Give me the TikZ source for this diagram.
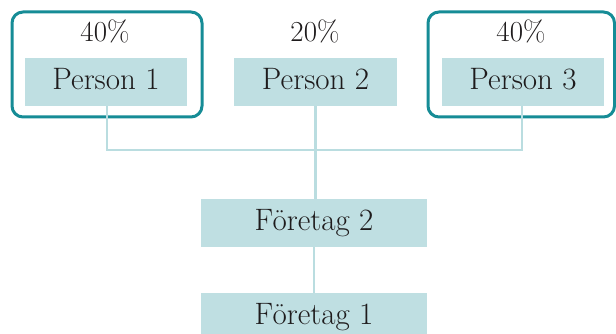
\documentclass[tikz,border=0pt]{standalone}
\usepackage{fontspec}
\definecolor{boxfill}{RGB}{191,223,226}
\definecolor{linec}{RGB}{186,221,224}
\definecolor{frame}{RGB}{22,140,150}
\definecolor{txt}{RGB}{30,27,28}
\tikzset{
  pbox/.style={fill=boxfill, minimum height=48pt, inner sep=0pt, text=txt,
    text height=22pt, text depth=6pt,
    font=\fontsize{31}{36}\selectfont},
  pct/.style={text=txt, inner sep=0pt, text height=20pt, text depth=0pt,
    font=\fontsize{29}{34}\selectfont},
  conn/.style={draw=linec, line width=2.5pt},
  framebox/.style={draw=frame, line width=3pt, rounded corners=11pt},
}
\begin{document}
\begin{tikzpicture}[x=1pt,y=1pt]
\clip (0,0) rectangle (616,334);
\useasboundingbox (0,0) rectangle (616,334);
% frames
\draw[framebox] (12,217) rectangle (202,322);
\draw[framebox] (428,217) rectangle (614.5,322);
% percentages
\node[pct] (pc1) at (105,302) {40\%};
\node[pct] (pc2) at (315,302) {20\%};
\node[pct] (pc3) at (521,302) {40\%};
\coordinate (bus) at (315,184);
% boxes
\node[pbox, minimum width=162pt] (p1) at (106,252) {Person 1};
\node[pbox, minimum width=163pt] (p2) at (315.5,252) {Person 2};
\node[pbox, minimum width=162pt] (p3) at (523,252) {Person 3};
\node[pbox, minimum width=226pt] (f2) at (314,111) {Företag 2};
\node[pbox, minimum width=226pt] (f1) at (314,17) {Företag 1};
% connectors
\draw[conn] ([xshift=1pt]p1.south) |- (bus) -| ([xshift=-1pt]p3.south);
\draw[conn] (p2.south) -- (p2.south |- f2.north);
\draw[conn] (f2.south) -- (f1.north);
\end{tikzpicture}
\end{document}
